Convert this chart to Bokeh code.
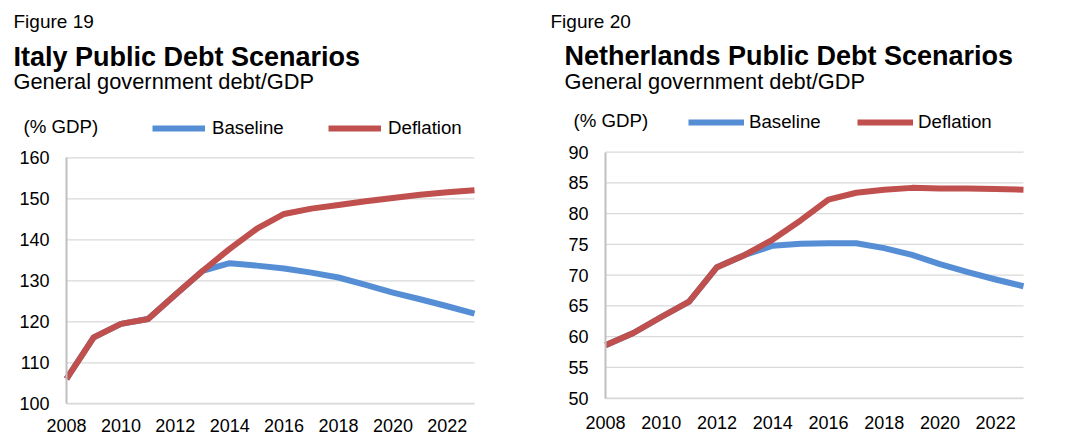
from bokeh.plotting import figure
from bokeh.models import Range1d, Label, Legend, LegendItem, FixedTicker
from bokeh.layouts import row
from bokeh.embed import file_html
from bokeh.resources import INLINE

years = list(range(2008, 2024))

italy_baseline = [106.1, 116.2, 119.5, 120.7, 126.6, 132.4, 134.3, 133.7, 133.0, 132.0,
                  130.8, 129.0, 127.1, 125.5, 123.8, 122.0]
italy_deflation = [106.1, 116.2, 119.5, 120.7, 126.6, 132.4, 137.8, 142.7, 146.3, 147.6,
                   148.5, 149.4, 150.2, 151.0, 151.6, 152.1]

nl_baseline = [58.6, 60.6, 63.2, 65.7, 71.3, 73.3, 74.8, 75.1, 75.2, 75.2,
               74.4, 73.3, 71.8, 70.5, 69.3, 68.2]
nl_deflation = [58.6, 60.6, 63.2, 65.7, 71.3, 73.3, 75.8, 78.9, 82.3, 83.4,
                83.9, 84.2, 84.1, 84.1, 84.0, 83.9]

x_ticks = [2008, 2010, 2012, 2014, 2016, 2018, 2020, 2022]
italy_yticks = [100, 110, 120, 130, 140, 150, 160]
nl_yticks = [50, 55, 60, 65, 70, 75, 80, 85, 90]

series_names = ["Baseline", "Deflation"]
unit_label = "(% GDP)"
subtitle = "General government debt/GDP"

BLUE = "#558ED5"
RED = "#C0504D"
FONT = "Liberation Sans"
GRID = "#D9D9D9"
AXIS = "#BFBFBF"
H = 440
LABEL_SHIFT = 7


def span_range(v0, v1, p0, p1, size):
    # range whose values v0, v1 land at canvas pixels p0, p1 (canvas of given size)
    k = (v1 - v0) / (p1 - p0)
    return Range1d(v0 - p0 * k, v0 + (size - p0) * k)


def panel(width, xpix, ypix, yticks, base, defl, fig_label, title, txt, legpos,
          y_standoff, x_standoff, glyph_w, leg_standoff):
    x_range = span_range(years[0], years[-1], xpix[0], xpix[1], width)
    y_range = span_range(yticks[0], yticks[-1], H - ypix[0], H - ypix[1], H)
    p = figure(width=width, height=H, output_backend="svg", toolbar_location=None,
               title=None, min_border=0, x_range=x_range, y_range=y_range)
    p.outline_line_color = None
    p.background_fill_color = "white"
    p.border_fill_color = "white"
    p.xgrid.grid_line_color = None
    p.ygrid.grid_line_color = None

    # horizontal gridlines across the data span
    p.segment(x0=[years[0]] * len(yticks), x1=[years[-1]] * len(yticks),
              y0=yticks, y1=yticks, line_color=GRID, line_width=1.3)

    p.yaxis.ticker = FixedTicker(ticks=yticks)
    p.xaxis.ticker = FixedTicker(ticks=x_ticks)
    p.yaxis.fixed_location = years[0]
    p.xaxis.fixed_location = yticks[0]
    p.yaxis.bounds = (yticks[0], yticks[-1])
    p.xaxis.bounds = (years[0], years[-1])
    for ax in (p.xaxis[0], p.yaxis[0]):
        ax.major_tick_line_color = None
        ax.minor_tick_line_color = None
        ax.major_tick_out = 0
        ax.minor_tick_out = 0
        ax.major_label_text_font = FONT
        ax.major_label_text_font_size = "18px"
        ax.major_label_text_color = "black"
    p.yaxis.axis_line_color = AXIS
    p.yaxis.axis_line_width = 2
    p.xaxis.axis_line_color = GRID
    p.xaxis.axis_line_width = 1.3
    p.yaxis.major_label_standoff = y_standoff
    p.xaxis.major_label_standoff = x_standoff

    r1 = p.line(years, base, line_color=BLUE, line_width=6, line_join="round")
    r2 = p.line(years, defl, line_color=RED, line_width=6, line_join="round")

    texts = [
        (fig_label, txt[0], "19px", "normal"),
        (title, txt[1], "27px", "bold"),
        (subtitle, txt[2], "21.8px", "normal"),
        (unit_label, txt[3], "18.7px", "normal"),
    ]
    for t, (x, y), fs, st in texts:
        p.add_layout(Label(x=x, y=H - (y - LABEL_SHIFT), x_units="screen", y_units="screen",
                           text=t, text_font=FONT, text_font_size=fs,
                           text_font_style=st, text_color="black",
                           text_baseline="alphabetic", text_align="left"))

    lx1, lx2, lcy = legpos
    for rend, name, lx in ((r1, series_names[0], lx1), (r2, series_names[1], lx2)):
        lg = Legend(items=[LegendItem(label=name, renderers=[rend])],
                    location=(lx, H - (lcy + 11)),
                    orientation="horizontal", glyph_width=glyph_w, glyph_height=22,
                    label_height=22, label_standoff=leg_standoff, padding=0, margin=0,
                    border_line_color=None, background_fill_alpha=0,
                    label_text_font=FONT, label_text_font_size="18.7px",
                    label_text_color="black")
        p.add_layout(lg, "center")
    return p


p1 = panel(540, (66, 474), (403.3, 157.3), italy_yticks, italy_baseline, italy_deflation,
           "Figure 19", "Italy Public Debt Scenarios",
           [(13, 28), (13, 63), (13, 88), (23, 133)], (152, 328, 128),
           17, 15, 53, 7)
p2 = panel(533, (65, 483), (397.7, 151.7), nl_yticks, nl_baseline, nl_deflation,
           "Figure 20", "Netherlands Public Debt Scenarios",
           [(10, 28), (24, 62), (24, 88), (33, 127)], (148, 317, 122),
           17, 18, 56, 5)

layout = row(p1, p2, spacing=0)
open("out.html", "w").write(file_html(layout, INLINE))
